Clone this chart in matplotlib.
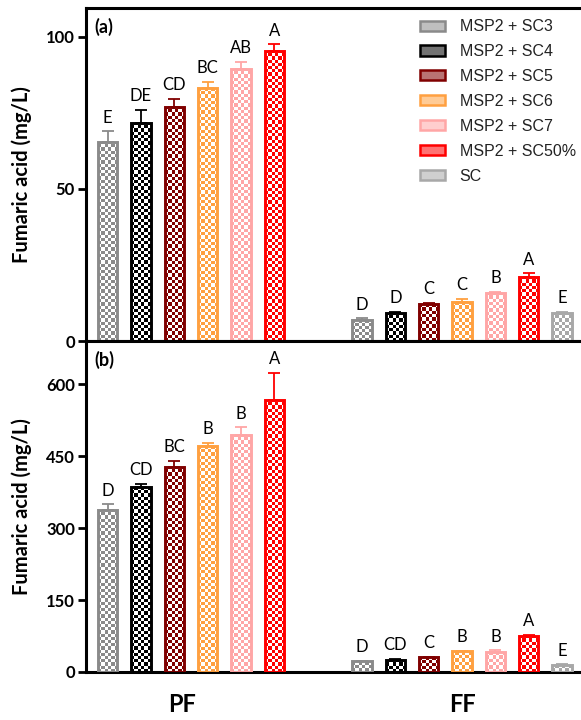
import numpy as np
import matplotlib
matplotlib.use("Agg")
import matplotlib.pyplot as plt
from matplotlib.patches import Patch
from matplotlib.colors import to_rgba

# ---------------- data ----------------
groups = ["PF", "FF"]
series = ["MSP2 + SC3", "MSP2 + SC4", "MSP2 + SC5", "MSP2 + SC6",
          "MSP2 + SC7", "MSP2 + SC50%", "SC"]
colors = ["#8a8a8a", "#000000", "#800000", "#ffa040", "#ffa6a6", "#ff0000", "#a8a8a8"]

# panel (a)
a_pf = [65.6, 71.8, 77.0, 83.1, 89.5, 95.5]
a_pf_err = [3.3, 4.3, 2.7, 2.1, 2.4, 2.1]
a_pf_let = ["E", "DE", "CD", "BC", "AB", "A"]
a_ff = [6.9, 9.3, 12.1, 12.7, 15.8, 21.2, 9.3]
a_ff_err = [0.6, 0.3, 0.5, 1.2, 0.4, 1.1, 0.3]
a_ff_let = ["D", "D", "C", "C", "B", "A", "E"]

# panel (b)
b_pf = [338, 385, 428, 471, 495, 568]
b_pf_err = [12, 7, 12, 7, 15, 56]
b_pf_let = ["D", "CD", "BC", "B", "B", "A"]
b_ff = [22, 25.6, 30.5, 43, 41.6, 75.6, 15]
b_ff_err = [1.5, 1.5, 1.5, 1.5, 4, 2, 1]
b_ff_let = ["D", "CD", "C", "B", "B", "A", "E"]

a_ticks = [0, 50, 100]
b_ticks = [0, 150, 300, 450, 600]

# ---------------- style ----------------
W, H, DPI = 5.81, 7.2, 100
FF_OFFSET = 7.64
BAR_W = 0.58
XLIM = (-0.65, 14.21)
LBL_FONT = ["Lato", "DejaVu Sans"]
LEG_FONT = ["Liberation Sans", "DejaVu Sans"]

fig = plt.figure(figsize=(W, H), dpi=DPI)
left = 86 / 581
ax_a = fig.add_axes([left, 1 - 341 / 720, 1 - left, (341 - 8) / 720])
ax_b = fig.add_axes([left, 1 - 672 / 720, 1 - left, (672 - 341) / 720])


def checker_bar(ax, x, h, color, cell_px=3.2):
    c = to_rgba(color)
    bar = ax.bar(x, h, width=BAR_W, color=c, edgecolor=c, linewidth=0, zorder=2)[0]
    x0, x1 = x - BAR_W / 2, x + BAR_W / 2
    p0 = ax.transData.transform((x0, 0))
    p1 = ax.transData.transform((x1, h))
    ncol = max(1, int(round(abs(p1[0] - p0[0]) / cell_px)))
    nrow = max(1, int(round(abs(p1[1] - p0[1]) / cell_px)))
    ii, jj = np.indices((nrow, ncol))
    mask = (ii + jj) % 2 == 0
    img = np.ones((nrow, ncol, 4))
    img[mask] = c
    im = ax.imshow(img, extent=(x0, x1, 0, h), aspect="auto",
                   interpolation="nearest", zorder=2.5, origin="lower")
    im.set_clip_path(bar)
    ax.bar(x, h, width=BAR_W, facecolor="none", edgecolor=c, linewidth=2.1, zorder=3)


def panel(ax, pf, pf_err, pf_let, ff, ff_err, ff_let, ylim, ticks, tag):
    ax.set_xlim(*XLIM)
    ax.set_ylim(*ylim)
    for vals, errs, lets, off in [(pf, pf_err, pf_let, 0), (ff, ff_err, ff_let, FF_OFFSET)]:
        for i, (v, e, l) in enumerate(zip(vals, errs, lets)):
            x = off + i
            checker_bar(ax, x, v, colors[i])
            ax.errorbar(x, v, yerr=[[0], [e]], fmt="none", ecolor=colors[i],
                        elinewidth=1.3, capsize=4.3, capthick=1.3, zorder=3.5)
            ax.annotate(l, (x, v + e), xytext=(0, 4), textcoords="offset points",
                        ha="center", va="bottom", fontsize=12, family=LBL_FONT)
    ax.set_xlim(*XLIM)
    ax.set_ylim(*ylim)
    ax.set_yticks(ticks)
    ax.set_yticklabels([str(t) for t in ticks], fontsize=12, fontweight="bold", family=LBL_FONT)
    ax.tick_params(axis="y", length=6, width=2, direction="out", pad=2)
    for s in ["left", "bottom", "top"]:
        ax.spines[s].set_linewidth(2.2)
    ax.spines["right"].set_visible(False)
    ax.set_ylabel("Fumaric acid (mg/L)", fontsize=14.5, fontweight="bold", family=LBL_FONT)
    ax.yaxis.set_label_coords(-0.11, 0.5)
    ax.text(0.016, 0.97, tag, transform=ax.transAxes, ha="left", va="top",
            fontsize=13, fontweight="bold", family=LBL_FONT)


panel(ax_a, a_pf, a_pf_err, a_pf_let, a_ff, a_ff_err, a_ff_let, (0, 109.5), a_ticks, "(a)")
panel(ax_b, b_pf, b_pf_err, b_pf_let, b_ff, b_ff_err, b_ff_let, (0, 690), b_ticks, "(b)")

ax_a.set_xticks([])
ax_b.set_xticks([2.23, FF_OFFSET + 3])
ax_b.set_xticklabels(groups, fontsize=17, fontweight="bold", family=LBL_FONT)
ax_b.tick_params(axis="x", length=0, pad=15)


def blend(c, f=0.55):
    r = np.array(to_rgba(c))
    r[:3] = r[:3] * f + (1 - f)
    return tuple(r)


handles = [Patch(facecolor=blend(c), edgecolor=c, linewidth=1.8) for c in colors]
leg = ax_a.legend(handles, series, loc="upper left", bbox_to_anchor=(0.655, 0.995),
                  frameon=False, prop={"family": LEG_FONT, "size": 11.5},
                  handlelength=1.6, handleheight=0.6, handletextpad=0.9,
                  labelspacing=0.62, borderaxespad=0.2)
for t in leg.get_texts():
    t.set_color("#222222")

fig.savefig("out.png", dpi=DPI)
